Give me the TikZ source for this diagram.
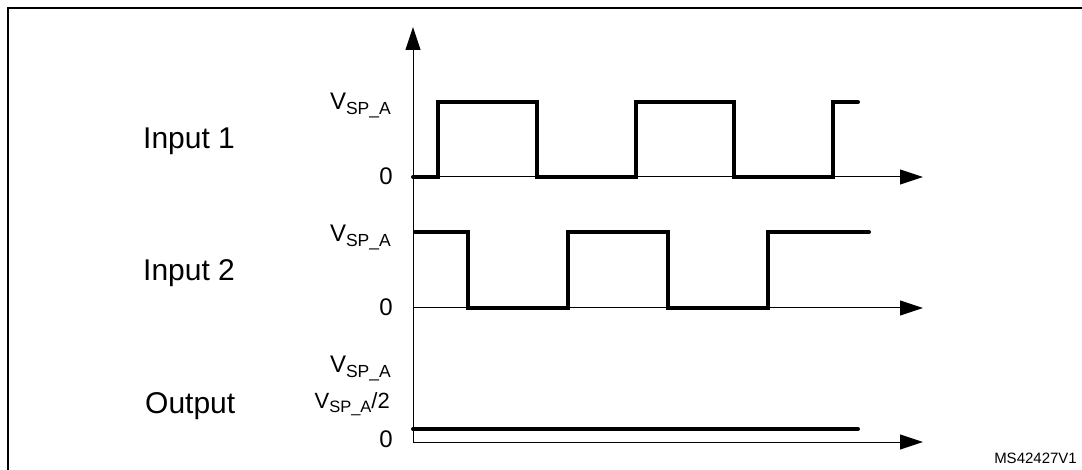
\documentclass[tikz,border=0pt]{standalone}
\usepackage{fontspec}
\setmainfont{Liberation Sans}
\usetikzlibrary{arrows.meta}
\newcommand\vspa[1][17.5]{V\raisebox{-4.5pt}{\fontsize{#1}{#1}\selectfont SP\_A}}
\begin{document}
\begin{tikzpicture}[x=1pt,y=-1pt,
  axisline/.style={line width=1pt},
  sig/.style={line width=4pt,line cap=round,line join=miter},
  arr/.style={-{Triangle[length=23pt,width=15pt]}},
  lvl/.style={anchor=base east,inner sep=0pt,font=\fontsize{24}{24}\selectfont},
  chan/.style={anchor=base west,inner sep=0pt,font=\fontsize{30}{31}\selectfont}]
\useasboundingbox (0,0) rectangle (1082,470);
% frame
\coordinate (fbl) at (8,480);
\coordinate (ftl) at (8,8);
\coordinate (ftr) at (1090,8);
\draw[line width=2.5pt] (fbl) -- (ftl) -- (ftr);
% axes
\coordinate (o) at (413,442);
\coordinate (ytop) at (413,27);
\coordinate (a1s) at (413,177);
\coordinate (a1e) at (923,177);
\coordinate (a2s) at (413,308);
\coordinate (a2e) at (923,308);
\coordinate (a3e) at (923,442);
\draw[axisline,arr] (o) -- (ytop);
\draw[axisline,arr] (a1s) -- (a1e);
\draw[axisline,arr] (a2s) -- (a2e);
\draw[axisline,arr] (o) -- (a3e);
% signals
\draw[sig] (413,177) -- (438,177) -- (438,102) -- (537,102) -- (537,177) -- (636,177)
  -- (636,102) -- (734,102) -- (734,177) -- (833,177) -- (833,102) -- (858,102);
\draw[sig] (415,232) -- (468,232) -- (468,308) -- (568,308) -- (568,232) -- (668,232)
  -- (668,308) -- (768,308) -- (768,232) -- (869,232);
\draw[sig] (413,429) -- (858,429);
% level labels
\node[lvl] (l1h) at (391,110) {\vspa};
\node[lvl] (l1z) at (393,185) {0};
\node[lvl] (l2h) at (391,242) {\vspa};
\node[lvl] (l2z) at (393,316) {0};
\node[lvl] (l3h) at (391,373) {\vspa};
\node[lvl,font=\fontsize{22}{22}\selectfont] (l3m) at (390,408) {\vspa[16.5]/2};
\node[lvl] (l3z) at (393,447) {0};
% channel labels
\node[chan] (in1) at (143,149) {Input 1};
\node[chan] (in2) at (143,281) {Input 2};
\node[chan] (out) at (145,413) {Output};
% reference
\node[anchor=base east,inner sep=0pt,font=\fontsize{15}{15}\selectfont] (ref) at (1077,463) {MS42427V1};
\end{tikzpicture}
\end{document}
